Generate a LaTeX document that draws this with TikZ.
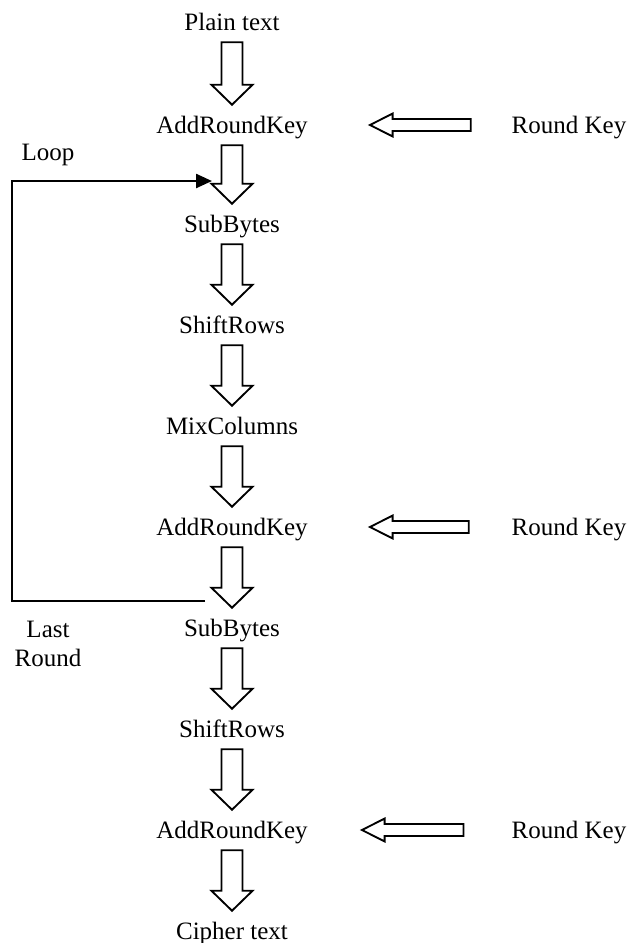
\documentclass[tikz,border=0pt]{standalone}
\usepackage{fontspec}
\setmainfont{Liberation Serif}
\usetikzlibrary{calc,arrows.meta}

% hollow block arrow drawn between two points: {shaft half width}{head half width}{head length}
\tikzset{
  blockarrow/.style n args={3}{line width=1.4pt, line join=miter, fill=white,
    to path={
      ($(\tikztotarget)!#3!(\tikztostart)$) coordinate (hb)
      ($(\tikztostart)!#1!90:(\tikztotarget)$)
      -- ($(hb)!#1!90:(\tikztotarget)$) -- ($(hb)!#2!90:(\tikztotarget)$)
      -- (\tikztotarget)
      -- ($(hb)!#2!-90:(\tikztotarget)$) -- ($(hb)!#1!-90:(\tikztotarget)$)
      -- ($(\tikztostart)!#1!-90:(\tikztotarget)$) -- cycle}},
  down/.style={blockarrow={7.9pt}{15.4pt}{15pt}},
  leftarrow/.style={blockarrow={4.5pt}{8.6pt}{17pt}},
  stage/.style={inner sep=0pt, text height=12.5pt, text depth=0pt, minimum height=30pt}
}

\begin{document}
\begin{tikzpicture}[x=0.75pt, y=0.75pt, every node/.style={font=\fontsize{18.75}{22}\selectfont}]
  \useasboundingbox (0,0) rectangle (629,-943);

  % rounds
  \node[stage] (plain)  at (232,-22)  {Plain text};
  \node[stage] (ark1)   at (232,-125) {AddRoundKey};
  \node[stage] (sub1)   at (232,-224) {SubBytes};
  \node[stage] (shift1) at (232,-325) {ShiftRows};
  \node[stage] (mix)    at (232,-426) {MixColumns};
  \node[stage] (ark2)   at (232,-527) {AddRoundKey};
  \node[stage] (sub2)   at (232,-628) {SubBytes};
  \node[stage] (shift2) at (232,-729) {ShiftRows};
  \node[stage] (ark3)   at (232,-830) {AddRoundKey};
  \node[stage] (cipher) at (232,-931) {Cipher text};

  % keys
  \node[stage] (key1) at (569,-125) {Round Key};
  \node[stage] (key2) at (569,-527) {Round Key};
  \node[stage] (key3) at (569,-830) {Round Key};

  \draw[down] (plain.south) to (ark1.north);
  \draw[down] (ark1.south) to (sub1.north);
  \draw[down] (sub1.south) to (shift1.north);
  \draw[down] (shift1.south) to (mix.north);
  \draw[down] (mix.south) to (ark2.north);
  \draw[down] (ark2.south) to (sub2.north);
  \draw[down] (sub2.south) to (shift2.north);
  \draw[down] (shift2.south) to (ark3.north);
  \draw[down] (ark3.south) to (cipher.north);

  \draw[leftarrow] ([xshift=-30.5pt]key1.west) to ([xshift=46.5pt]ark1.east);
  \draw[leftarrow] ([xshift=-32pt]key2.west) to ([xshift=46.5pt]ark2.east);
  \draw[leftarrow] ([xshift=-36pt]key3.west) to ([xshift=40.5pt]ark3.east);

  % loop back
  \coordinate (loopout) at (205,-601);
  \coordinate (loopin) at (212,-181);
  \draw[line width=1.8pt, -{Triangle[length=12pt,width=10.5pt]}]
    (loopout) -| (12,-181) -- (loopin);
  \node (loop) at (48,-155) {Loop};
  \node[align=center] (last) at (48,-644) {Last\\Round};
\end{tikzpicture}
\end{document}
